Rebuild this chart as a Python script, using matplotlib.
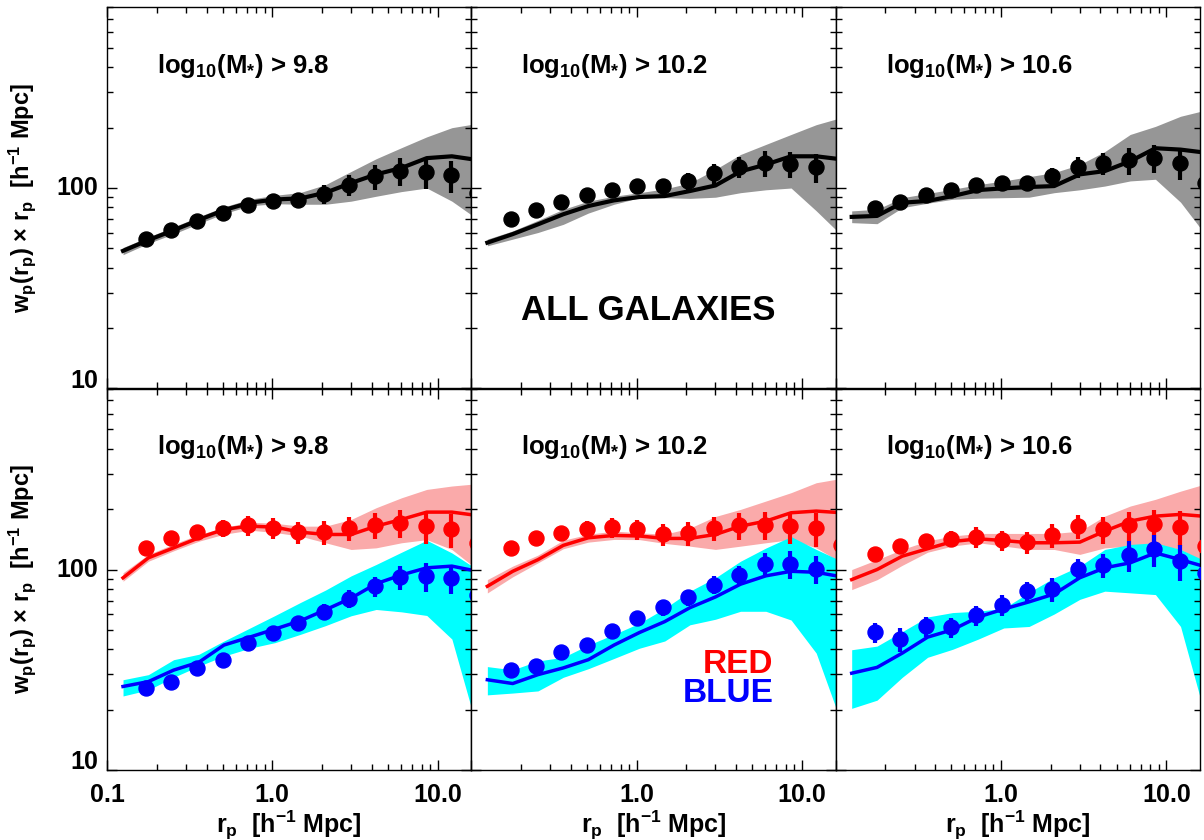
import numpy as np
import matplotlib
matplotlib.use('Agg')
import matplotlib.pyplot as plt
import matplotlib.transforms as mtransforms
from matplotlib.ticker import FixedLocator, FixedFormatter, LogLocator, NullFormatter

# projected separations of the measurements and of the model curves
rp_data = [0.173, 0.245, 0.35, 0.50, 0.71, 1.01, 1.44, 2.05, 2.92, 4.17, 5.94, 8.47, 12.1, 17.2]
rp_model = [0.125, 0.178, 0.253, 0.36, 0.51, 0.73, 1.04, 1.48, 2.1, 3.0, 4.25, 6.05, 8.6, 12.2, 17.4]

mass_labels = ['9.8', '10.2', '10.6']

# ---- all galaxies (top row) ----
all_98 = [55.6, 61.6, 68.5, 75.1, 82.3, 86.2, 87.5, 93.7, 103.8, 114.3, 121.5, 119.7, 116.0, 94.8]
all_98_err = [2, 2, 3, 4, 6, 7, 7, 10, 13, 16, 19, 21, 21, 18]
all_102 = [69.9, 77.5, 84.9, 92.3, 97.7, 101.9, 101.9, 107.9, 118.3, 127.6, 133.6, 132.1, 126.8, np.nan]
all_102_err = [2, 2, 3, 5, 8, 8, 8, 11, 13, 16, 20, 20, 21, np.nan]
all_106 = [79.3, 84.9, 92.0, 97.4, 103.1, 105.5, 106.2, 114.8, 127.6, 132.7, 137.4, 141.5, 132.7, 106.2]
all_106_err = [2, 2, 3, 5, 7, 8, 8, 11, 15, 17, 21, 23, 23, 19]

mod_all_98 = [48.6, 55, 61.6, 69.3, 77.6, 84.5, 87.7, 88.8, 94.8, 106, 117, 126, 141, 144, 138]
mod_all_98_hi = [50.5, 57, 64, 72, 80.5, 88, 92, 95, 104, 121, 140, 159, 180, 200, 210]
mod_all_98_lo = [46.5, 53, 59, 66.5, 74.5, 81.5, 83.5, 83, 83, 86, 91, 96, 100, 86, 70]
mod_all_102 = [53.4, 58.9, 65.9, 74, 81.3, 86.8, 90.2, 91.2, 96.6, 103, 121, 131, 144, 144, 139]
mod_all_102_hi = [55.6, 61.1, 69, 78.3, 86, 91, 94.8, 99, 106, 124, 147, 165, 185, 207, 225]
mod_all_102_lo = [51.5, 55.6, 60, 65.9, 75, 83, 89.5, 89.5, 88.8, 90, 94.8, 98, 100, 77, 58]
mod_all_106 = [71.8, 72.6, 84.5, 86.2, 91.2, 97.7, 99.7, 101.2, 102.3, 117, 121.5, 136, 158, 155.5, 150]
mod_all_106_hi = [76.9, 78.3, 89.5, 94, 98.6, 104, 108.5, 114, 119.4, 131, 152, 185, 203, 228, 245]
mod_all_106_lo = [67.2, 66.4, 79.8, 84, 87.9, 89, 89.5, 90, 94.8, 98, 102.3, 108.5, 110.6, 85, 58]

# ---- red / blue galaxies (bottom row) ----
red_98 = [128.3, 142.9, 153.6, 160.9, 166.6, 161.6, 153.6, 153.6, 160.3, 166.6, 171.2, 164.6, 158.5, 135.9]
red_98_err = [4, 7, 11, 15, 19, 19, 19, 21, 22, 25, 28, 30, 31, 27]
red_102 = [128.3, 142.9, 152.5, 159.4, 162.7, 158.5, 149.6, 151.4, 160.3, 166.0, 166.6, 164.6, 160.3, 132.3]
red_102_err = [4, 7, 11, 15, 19, 18, 19, 21, 22, 25, 27, 30, 31, 27]
red_106 = [120.2, 130.8, 138.5, 142.3, 145.1, 140.2, 137.0, 147.9, 164.6, 158.5, 166.0, 167.9, 163.4, 130.8]
red_106_err = [4, 6, 10, 13, 17, 16, 17, 20, 23, 24, 27, 31, 32, 26]

blue_98 = [25.6, 27.6, 32.2, 35.5, 43.0, 48.2, 54.1, 61.4, 71.6, 82.5, 91.5, 92.6, 90.5, 75.0]
blue_98_err = [0.6, 1, 1.1, 1.6, 2.5, 3.3, 4.4, 5.7, 7.4, 9.5, 12.6, 14.9, 14.6, 12]
blue_102 = [31.6, 33.1, 39.0, 42.0, 49.2, 57.1, 64.8, 72.7, 84.1, 93.7, 106.7, 106.7, 100.8, np.nan]
blue_102_err = [1.1, 1.5, 1.8, 2.4, 3.4, 4.6, 6.0, 6.7, 8.7, 10.8, 14.7, 17.2, 16.2, np.nan]
blue_106 = [48.8, 45.0, 52.1, 51.7, 59.1, 66.6, 77.9, 80.0, 100.8, 105.1, 117.9, 125.9, 110.0, 96.3]
blue_106_err = [5.6, 6.2, 6.0, 5.9, 6.8, 7.7, 9.0, 11.0, 11.6, 14.5, 20.4, 23.2, 22.8, 20]

mod_red_98 = [90.9, 114.4, 128.3, 144, 158.5, 164.6, 162.7, 153.6, 149.6, 149.6, 164.6, 177.8, 193.4, 193.4, 186]
mod_red_98_hi = [96.3, 118.9, 134, 149.6, 162, 172.4, 170, 164.6, 164.6, 177.8, 203.4, 228, 251, 261, 268]
mod_red_98_lo = [87.4, 110, 124, 138.5, 150, 157.2, 153, 146.7, 136, 125.9, 128.3, 136, 141, 125.9, 100]
mod_red_102 = [82.5, 98, 112, 132, 144, 148, 147, 142.9, 143, 149.6, 164.6, 174.4, 192, 195.7, 192]
mod_red_102_hi = [89.1, 104, 118, 140, 150, 155.5, 152.5, 150, 161, 184, 199.5, 219.6, 241.8, 271, 285]
mod_red_102_lo = [76.4, 92, 108, 127, 137, 141.3, 141, 135, 130.8, 126, 130.8, 136, 141, 128.3, 108]
mod_red_106 = [89.1, 100, 116.6, 127, 138, 142.3, 139.5, 136, 136, 137, 155.5, 174.4, 184.7, 188.4, 184]
mod_red_106_hi = [100, 112, 126, 139, 147, 151.4, 151.4, 151.4, 151.4, 155.5, 184.7, 207.3, 224, 246, 268]
mod_red_106_lo = [79.4, 89, 105, 122, 131, 136, 131, 126, 125.9, 119, 128.3, 130.8, 133.4, 126, 108]

mod_blue_98 = [26.1, 27.6, 31.5, 34.5, 42, 46, 50.5, 55.5, 63, 72, 85, 94, 102, 104, 98]
mod_blue_98_hi = [28.2, 29.9, 35.5, 37.8, 44, 51, 59, 68.5, 79, 93, 106, 122, 140, 121, 100]
mod_blue_98_lo = [23.4, 25.1, 29, 33, 37, 40.5, 43.2, 47.5, 52.5, 58.8, 63.2, 61.5, 59, 45, 16]
mod_blue_102 = [28.2, 27, 29.9, 32.3, 35.5, 42, 48.5, 55, 64.5, 73, 84.5, 93, 98, 96.9, 92]
mod_blue_102_hi = [32.8, 31.6, 35, 36.5, 42, 47.5, 54, 64, 78, 91, 110, 128, 146, 126, 110]
mod_blue_102_lo = [23.7, 24.2, 24.8, 29, 32, 36, 40.5, 44, 53, 56.5, 61.9, 61.9, 56, 38.3, 17]
mod_blue_106 = [30.4, 32.5, 38.3, 46, 50.1, 58, 63.5, 69, 75.5, 91, 102, 108, 121, 112, 103]
mod_blue_106_hi = [39.8, 41.5, 49, 58, 61, 62, 64, 77, 91, 104, 126, 133.4, 136, 126, 110]
mod_blue_106_lo = [20.3, 22.3, 29, 36.5, 40, 45, 51.1, 52, 60, 71, 78, 76.5, 75, 52, 18]

plt.rcParams['font.family'] = ['Liberation Sans', 'DejaVu Sans']
plt.rcParams['font.weight'] = 'bold'
plt.rcParams['axes.labelweight'] = 'bold'
plt.rcParams['mathtext.fontset'] = 'custom'
plt.rcParams['mathtext.rm'] = 'Liberation Sans:bold'
plt.rcParams['mathtext.it'] = 'Liberation Sans:bold'
plt.rcParams['mathtext.bf'] = 'Liberation Sans:bold'
plt.rcParams['mathtext.default'] = 'rm'
plt.rcParams['axes.linewidth'] = 1.0

GRAY = '#969696'
PINK = '#faaaaa'
CYAN = '#00ffff'
RED = '#ff0000'
BLUE = '#0000ff'

fig, axes = plt.subplots(2, 3, figsize=(12.04, 8.4), dpi=100)
fig.subplots_adjust(left=107/1204, right=1200/1204, bottom=70/840, top=833/840,
                    wspace=0, hspace=0)

top_sets = [
    (all_98, all_98_err, mod_all_98, mod_all_98_lo, mod_all_98_hi),
    (all_102, all_102_err, mod_all_102, mod_all_102_lo, mod_all_102_hi),
    (all_106, all_106_err, mod_all_106, mod_all_106_lo, mod_all_106_hi),
]
bot_sets = [
    (red_98, red_98_err, mod_red_98, mod_red_98_lo, mod_red_98_hi,
     blue_98, blue_98_err, mod_blue_98, mod_blue_98_lo, mod_blue_98_hi),
    (red_102, red_102_err, mod_red_102, mod_red_102_lo, mod_red_102_hi,
     blue_102, blue_102_err, mod_blue_102, mod_blue_102_lo, mod_blue_102_hi),
    (red_106, red_106_err, mod_red_106, mod_red_106_lo, mod_red_106_hi,
     blue_106, blue_106_err, mod_blue_106, mod_blue_106_lo, mod_blue_106_hi),
]

ms = 10.8
for col in range(3):
    # top row: all galaxies
    ax = axes[0, col]
    d, e, m, lo, hi = top_sets[col]
    ax.fill_between(rp_model, lo, hi, color=GRAY, lw=0, zorder=1)
    ax.plot(rp_model, m, color='k', lw=3, zorder=2)
    ax.errorbar(rp_data, d, yerr=e, fmt='o', color='k', ms=ms, elinewidth=3,
                capsize=0, zorder=3)

    # bottom row: red and blue
    ax = axes[1, col]
    rd, re, rm, rlo, rhi, bd, be, bm, blo, bhi = bot_sets[col]
    ax.fill_between(rp_model, rlo, rhi, color=PINK, lw=0, zorder=1)
    ax.fill_between(rp_model, blo, bhi, color=CYAN, lw=0, zorder=1.1)
    ax.plot(rp_model, rm, color=RED, lw=2.5, zorder=2)
    ax.plot(rp_model, bm, color=BLUE, lw=2.5, zorder=2)
    ax.errorbar(rp_data, rd, yerr=re, fmt='o', color=RED, ms=ms, elinewidth=3,
                capsize=0, zorder=3)
    ax.errorbar(rp_data, bd, yerr=be, fmt='o', color=BLUE, ms=ms, elinewidth=3,
                capsize=0, zorder=3)

for row in range(2):
    for col in range(3):
        ax = axes[row, col]
        ax.set_xscale('log')
        ax.set_yscale('log')
        ax.set_xlim(0.1, 16)
        ax.set_ylim(10, 800)
        ax.xaxis.set_major_locator(FixedLocator([0.1, 1.0, 10.0]))
        ax.xaxis.set_minor_locator(LogLocator(base=10, subs=np.arange(2, 10)))
        ax.yaxis.set_major_locator(FixedLocator([10, 100]))
        ax.yaxis.set_minor_locator(LogLocator(base=10, subs=np.arange(2, 10)))
        ax.xaxis.set_minor_formatter(NullFormatter())
        ax.yaxis.set_minor_formatter(NullFormatter())
        ax.yaxis.set_major_formatter(NullFormatter())
        if row == 1:
            labs = ['0.1', '1.0', '10.0'] if col == 0 else ['', '1.0', '10.0']
            ax.xaxis.set_major_formatter(FixedFormatter(labs))
            ax.set_xlabel(r'r$_p$  [h$^{-1}$ Mpc]', fontsize=18)
            ax.xaxis.set_label_coords(0.5, -0.103)
        else:
            ax.xaxis.set_major_formatter(NullFormatter())
        ax.tick_params(which='both', direction='in', top=True, right=True,
                       labelsize=18, pad=9, width=1.0)
        ax.tick_params(which='major', length=7.5)
        ax.tick_params(which='minor', length=4)

        ax.text(0.137, 0.827, r'log$_{10}$(M$_{*}$) > ' + mass_labels[col],
                transform=ax.transAxes, fontsize=18.5, va='baseline', ha='left')

        if col == 0:
            tr = mtransforms.blended_transform_factory(ax.transAxes, ax.transData)
            ax.text(-9/364, 100, '100', transform=tr, ha='right', va='center',
                    fontsize=18)
            ax.text(-9/364, 10.1, '10', transform=tr, ha='right', va='baseline',
                    fontsize=18)
            ax.set_ylabel(r'w$_p$(r$_p$) $\times$ r$_p$  [h$^{-1}$ Mpc]', fontsize=17)
            ax.yaxis.set_label_coords(-0.19, 0.5)

axes[0, 1].text(0.485, 0.205, 'ALL GALAXIES', transform=axes[0, 1].transAxes,
                fontsize=25, ha='center', va='center')
axes[1, 1].text(0.83, 0.254, 'RED', transform=axes[1, 1].transAxes, fontsize=24,
                color=RED, ha='right', va='baseline')
axes[1, 1].text(0.83, 0.178, 'BLUE', transform=axes[1, 1].transAxes, fontsize=24,
                color=BLUE, ha='right', va='baseline')

fig.savefig('out.png', dpi=100)
